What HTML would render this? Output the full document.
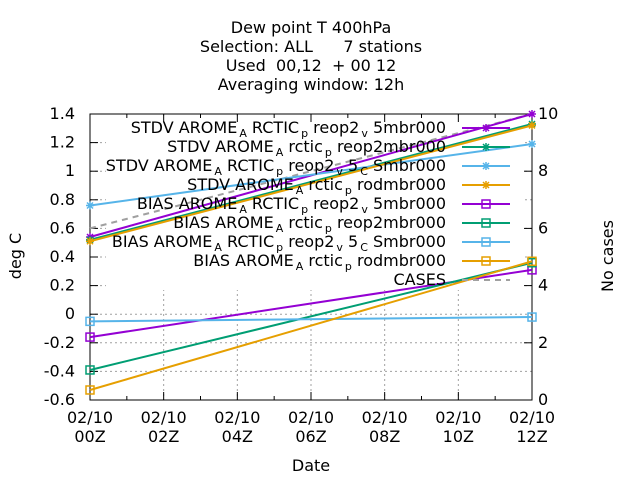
<!DOCTYPE html>
<html><head><meta charset="utf-8"><style>
body{margin:0;background:#fff}
svg{font-family:"DejaVu Sans","Liberation Sans",sans-serif;font-size:16px}
text{white-space:pre}
</style></head><body>
<svg width="640" height="480" id="c" xmlns="http://www.w3.org/2000/svg">
<g text-anchor="middle" fill="#000">
<text x="311" y="33">Dew point T 400hPa</text>
<text x="311" y="52">Selection: ALL      7 stations</text>
<text x="311" y="71">Used  00,12  + 00 12</text>
<text x="311" y="90">Averaging window: 12h</text>
</g>
<text transform="translate(21,256) rotate(-90)" text-anchor="middle">deg C</text>
<text transform="translate(613,256) rotate(-90)" text-anchor="middle">No cases</text>
<text x="311" y="471" text-anchor="middle">Date</text>
<g id="grid"></g><rect x="106" y="119" width="416" height="171" fill="#fff"/><g id="axes"></g><g id="series"></g><g id="legend"></g>
</svg>
<script>
const xLabels=["00Z","02Z","04Z","06Z","08Z","10Z","12Z"];
const hours=[0,12];
const yTicks=[-0.6,-0.4,-0.2,0,0.2,0.4,0.6,0.8,1,1.2,1.4];
const y2Ticks=[0,2,4,6,8,10];
const names=["STDV AROME_A RCTIC_p reop2_v 5mbr000","STDV AROME_A rctic_p reop2mbr000","STDV AROME_A RCTIC_p reop2_v 5_C Smbr000","STDV AROME_A rctic_p rodmbr000","BIAS AROME_A RCTIC_p reop2_v 5mbr000","BIAS AROME_A rctic_p reop2mbr000","BIAS AROME_A RCTIC_p reop2_v 5_C Smbr000","BIAS AROME_A rctic_p rodmbr000"];
const stdvPurple=[0.54,1.40];
const stdvGreen=[0.52,1.33];
const stdvBlue=[0.76,1.19];
const stdvOrange=[0.51,1.32];
const biasPurple=[-0.16,0.31];
const biasGreen=[-0.39,0.36];
const biasBlue=[-0.05,-0.02];
const biasOrange=[-0.53,0.37];
const cases=[6,10];
const NS="http://www.w3.org/2000/svg";
const L=90,R=532,T=114,B=400;
const X=h=>L+(R-L)*h/12;
const Y=v=>B-(B-T)*(v+0.6)/2.0;
const Y2=v=>B-(B-T)*v/10;
function el(t,a,p){const e=document.createElementNS(NS,t);for(const k in a)e.setAttribute(k,a[k]);p.appendChild(e);return e;}
const grid=document.getElementById('grid'),axes=document.getElementById('axes'),ser=document.getElementById('series'),leg=document.getElementById('legend');
yTicks.forEach(v=>{const y=Y(v);
 const g=el('line',{x1:L,x2:R,y1:y,y2:y,stroke:'#a0a0a0','stroke-dasharray':'2,3'},grid);
 
 el('line',{x1:L,x2:L+8,y1:y,y2:y,stroke:'#000'},axes);
 const t=el('text',{x:75,y:y+5,'text-anchor':'end'},axes);t.textContent=(v===0?'0':String(Math.round(v*10)/10));
 });
y2Ticks.forEach(v=>{const y=Y2(v);
 el('line',{x1:R-8,x2:R,y1:y,y2:y,stroke:'#000'},axes);
 const t=el('text',{x:538,y:y+5},axes);t.textContent=v;
 });
for(let h=0;h<=12;h++){const x=X(h);
 if(h%2===0){const g=el('line',{x1:x,x2:x,y1:T,y2:B,stroke:'#a0a0a0','stroke-dasharray':'2,3'},grid);
  
  const t=el('text',{x:x,y:423,'text-anchor':'middle'},axes);t.textContent='02/10';
  
  const t2=el('text',{x:x,y:442,'text-anchor':'middle'},axes);t2.textContent=xLabels[h/2];
  }
 const len=h%2===0?8:4;
 el('line',{x1:x,x2:x,y1:B-len,y2:B,stroke:'#000'},axes);el('line',{x1:x,x2:x,y1:T,y2:T+len,stroke:'#000'},axes);}
const fr=el('rect',{x:L,y:T,width:R-L,height:B-T,fill:'none',stroke:'#000'},axes);

const cols=['#9400d3','#009e73','#56b4e9','#e69f00'];
const series=[stdvPurple,stdvGreen,stdvBlue,stdvOrange,biasPurple,biasGreen,biasBlue,biasOrange];
function star(x,y,c,p){el('path',{d:`M${x-4} ${y}H${x+4}M${x} ${y-4}V${y+4}M${x-3} ${y-3}L${x+3} ${y+3}M${x-3} ${y+3}L${x+3} ${y-3}`,stroke:c,'stroke-width':1.5},p);}
function sq(x,y,c,p){el('rect',{x:x-4,y:y-4,width:8,height:8,fill:'none',stroke:c,'stroke-width':1.5},p);}
const cg=el('polyline',{points:hours.map((h,i)=>X(h)+','+Y2(cases[i])).join(' '),fill:'none',stroke:'#a0a0a0','stroke-width':2,'stroke-dasharray':'6,5'},ser);

series.forEach((s,k)=>{const c=cols[k%4];const g=el('g',{},ser);
 
 
 el('polyline',{points:hours.map((h,i)=>X(h)+','+Y(s[i])).join(' '),fill:'none',stroke:c,'stroke-width':2},g);
 hours.forEach((h,i)=>k<4?star(X(h),Y(s[i]),c,g):sq(X(h),Y(s[i]),c,g));});
const rows=[128,147,166,185,204,223,242,261,280];
names.concat(['CASES']).forEach((n,k)=>{const y=rows[k];const g=el('g',{},leg);
 
 const t=el('text',{x:446,y:y+5,'text-anchor':'end'},g);
 n.split(/_(\S)/).forEach((p,i)=>{const ts=el('tspan',{},t);ts.textContent=p;if(i%2===1){ts.setAttribute('font-size','11');ts.setAttribute('dy','4');ts.setAttribute('dx','2');}else if(i>0){ts.setAttribute('dy','-4');}});
 if(k<8){const c=cols[k%4];el('line',{x1:462,x2:510,y1:y,y2:y,stroke:c,'stroke-width':2},g);k<4?star(486,y,c,g):sq(486,y,c,g);}
 else el('line',{x1:462,x2:510,y1:y,y2:y,stroke:'#a0a0a0','stroke-width':2,'stroke-dasharray':'6,5'},g);});
</script>
</body></html>
